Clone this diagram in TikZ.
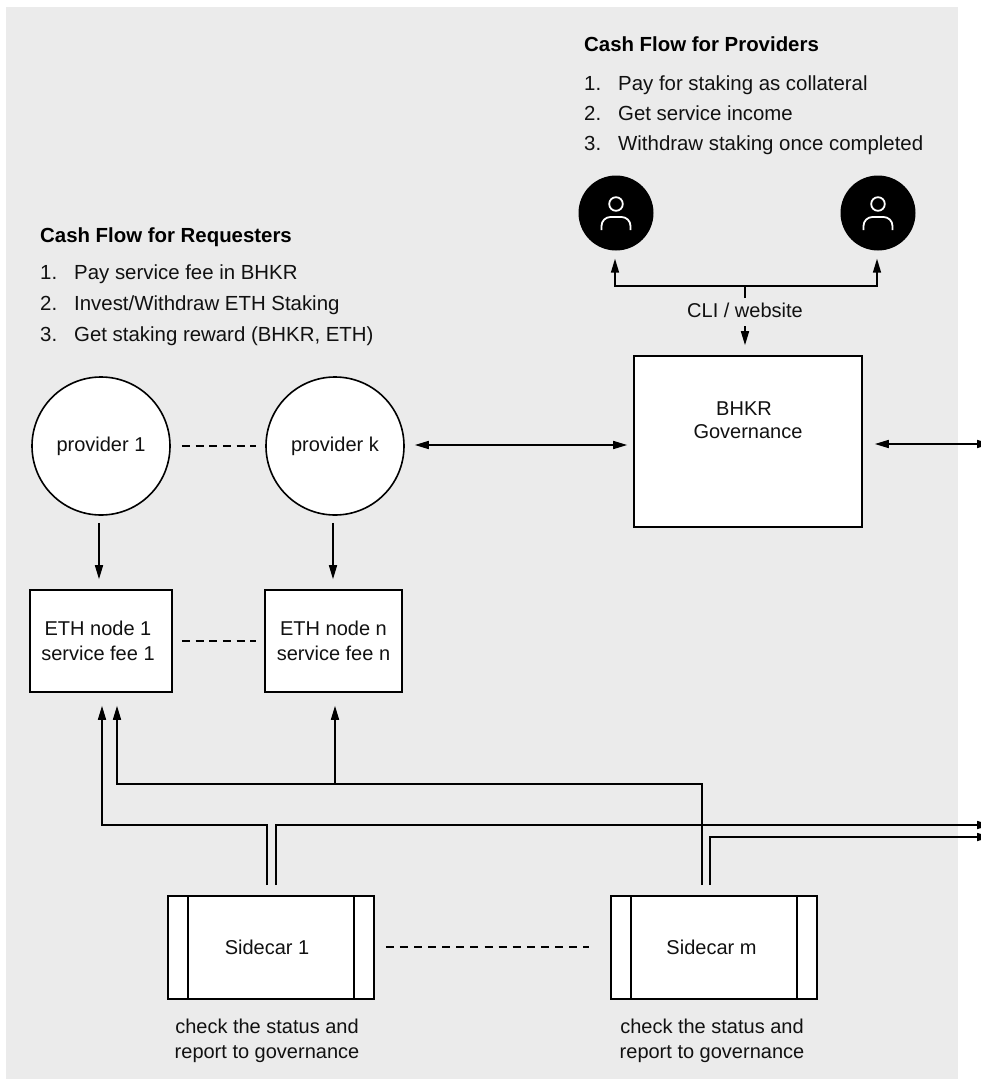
\documentclass[tikz,border=0pt]{standalone}
\usepackage{fontspec}
\setmainfont{Liberation Sans}
\usetikzlibrary{arrows.meta,positioning}
\definecolor{panel}{HTML}{EBEBEB}
\definecolor{ink}{HTML}{111111}
\tikzset{
  x=1pt,y=-1pt,
  line/.style={line width=1.6pt,draw=black},
  arrowline/.style={line,-{Triangle[length=14pt,width=8pt]}},
  dbl/.style={line,{Triangle[length=14pt,width=8pt]}-{Triangle[length=14pt,width=8pt]}},
  dashline/.style={line,dash pattern=on 8pt off 5.7pt},
  box/.style={draw=black,line width=1.6pt,fill=white,inner sep=0pt,align=center,text=ink,font=\fontsize{20}{24.5}\selectfont},
  circ/.style={box,circle,minimum size=138pt},
  etb/.style={box,minimum height=102pt},
  car/.style={box,minimum width=206pt,minimum height=103pt},
  lbl/.style={inner sep=0pt,align=center,text=ink,font=\fontsize{20}{25}\selectfont},
  head/.style={inner sep=0pt,anchor=base west,text=black,font=\fontsize{20.4}{24}\selectfont\bfseries},
  item/.style={inner sep=0pt,anchor=base west,text=ink,font=\fontsize{20.4}{24}\selectfont},
  person/.style={circle,fill=black,minimum size=75pt,inner sep=0pt},
  icon/.style={draw=white,line width=1.8pt},
}
\begin{document}
\begin{tikzpicture}
\clip (0,0) rectangle (981,1079);
\useasboundingbox (0,0) rectangle (981,1079);
\fill[white] (0,0) rectangle (981,1079);
\fill[panel] (6,7) rectangle (958,1079);

% headings and lists
\node[head] (hp) at (584,51) {Cash Flow for Providers};
\node[item] (p1n) at (584,90) {1.}; \node[item] (p1t) at (618,90) {Pay for staking as collateral};
\node[item] (p2n) at (584,120) {2.}; \node[item] (p2t) at (618,120) {Get service income};
\node[item] (p3n) at (584,150) {3.}; \node[item] (p3t) at (618,150) {Withdraw staking once completed};
\node[head] (hr) at (40,242) {Cash Flow for Requesters};
\node[item] (r1n) at (40,279) {1.}; \node[item] (r1t) at (74,279) {Pay service fee in BHKR};
\node[item] (r2n) at (40,310) {2.}; \node[item] (r2t) at (74,310) {Invest/Withdraw ETH Staking};
\node[item] (r3n) at (40,341) {3.}; \node[item] (r3t) at (74,341) {Get staking reward (BHKR, ETH)};

% people
\node[person] (u1) at (616,213) {};
\node[person] (u2) at (878,213) {};
\foreach \u in {u1,u2}{
  \draw[icon] ([yshift=9pt]\u.center) circle (6.8pt);
  \draw[icon,rounded corners=9pt] ([shift={(-14.5,17)}]\u.center) -- ([shift={(-14.5,4)}]\u.center) -- ([shift={(14.5,4)}]\u.center) -- ([shift={(14.5,17)}]\u.center);
}

% governance
\node[box,minimum width=228pt,minimum height=171pt] (gov) at (748,441.5) {};
\node[lbl,font=\fontsize{20}{23}\selectfont] (govt) at (748,420) {BHKR\rule{8pt}{0pt}\\Governance};
\node[lbl] (cli) at (745,310) {CLI / website};
\coordinate (split) at (745,286);
\draw[line] (cli.north |- 0,298) -- (split);
\draw[arrowline] (split) -| ([shift={(-1,8)}]u1.south);
\draw[arrowline] (split) -| ([shift={(-1,8)}]u2.south);
\draw[arrowline] (cli.south |- 0,326) -- ([shift={(-3,-10)}]gov.north);

% providers
\node[circ] (pr1) at (101,446) {provider 1};
\node[circ] (prk) at (335,446) {provider k};
\draw[dashline] ([xshift=11pt]pr1.east) -- ([xshift=-9pt]prk.west);
\coordinate (govE) at (991,444);
\draw[dbl] ([shift={(10,-1)}]prk.east) -- ([shift={(-6,3.5)}]gov.west);
\draw[dbl] ([shift={(12,2.5)}]gov.east) -- (govE);

% eth nodes
\node[etb,minimum width=142pt] (e1) at (101,641) {ETH node 1\rule{6pt}{0pt}\\service fee 1\rule{6pt}{0pt}};
\node[etb,minimum width=137pt] (en) at (333.5,641) {ETH node n\\service fee n};
\draw[dashline] ([xshift=9pt]e1.east) -- ([xshift=-8pt]en.west);
\draw[arrowline] ([shift={(-2,7)}]pr1.south) -- ([shift={(-2,-10)}]e1.north);
\draw[arrowline] ([shift={(-2,7)}]prk.south) -- ([shift={(-0.5,-10)}]en.north);

% sidecars
\node[car] (s1) at (271,947.5) {Sidecar 1\rule{8pt}{0pt}};
\node[car] (sm) at (714,947.5) {Sidecar m\rule{5pt}{0pt}};
\foreach \s in {s1,sm}{
  \draw[line] ([xshift=21pt]\s.north west) -- ([xshift=21pt]\s.south west);
  \draw[line] ([xshift=-21pt]\s.north east) -- ([xshift=-21pt]\s.south east);
}
\draw[dashline,dash pattern=on 8pt off 6.1pt] ([shift={(11,-0.5)}]s1.east) -- ([shift={(-21,-0.5)}]sm.west);
\node[lbl] (c1) at (267,1040.5) {check the status and\\report to governance};
\node[lbl] (c2) at (712,1040.5) {check the status and\\report to governance};

% reporting lines
\coordinate (outA) at (991,825);
\coordinate (outB) at (991,837);
\coordinate (busL) at (117,784);
\coordinate (busR) at (702,784);
\coordinate (busN) at (335,784);
\draw[arrowline] ([shift={(-4,-10)}]s1.north) |- (102,825) -- ([shift={(1,13)}]e1.south);
\draw[arrowline] ([shift={(5,-10)}]s1.north) |- (outA);
\draw[arrowline] ([shift={(-12,-10)}]sm.north) -- (busR) -- (busL) -- ([shift={(16,13)}]e1.south);
\draw[arrowline] (busN) -- ([shift={(1.5,13)}]en.south);
\draw[arrowline] ([shift={(-4,-10)}]sm.north) |- (outB);
\end{tikzpicture}
\end{document}
